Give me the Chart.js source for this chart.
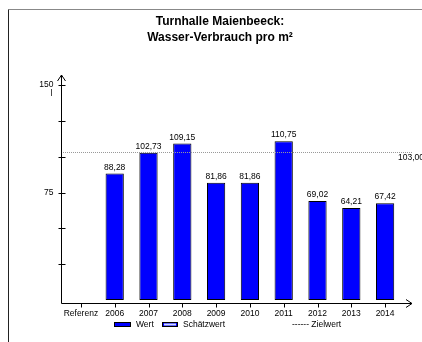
<!DOCTYPE html>
<html>
<head>
<meta charset="utf-8">
<script src="https://cdn.jsdelivr.net/npm/chart.js@4.4.0/dist/chart.umd.min.js"></script>
<style>
  body { margin: 0; background: #fff; }
  canvas { display: block; }
</style>
</head>
<body>
<canvas id="wasserChart" width="422" height="342"></canvas>
<script>
'use strict';
//** Data */

let categories = ['Referenz', '2006', '2007', '2008', '2009', '2010', '2011', '2012', '2013', '2014'];
let wertValues = [null, 88.28, 102.73, 109.15, 81.86, 81.86, 110.75, 69.02, 64.21, 67.42];
let zielwert = 103;
let yTicks = [25, 50, 75, 100, 125, 150];
let yTickLabels = [75, 150];
let titleLines = ['Turnhalle Maienbeeck:', 'Wasser-Verbrauch pro m²'];
let unitLabel = 'l';
let legendNames = ['Wert', 'Schätzwert', 'Zielwert'];

let fontFamily = '"Liberation Sans", Arial, sans-serif';
let smallFont = '8.5px ' + fontFamily;

function formatNumber(v){
  return v.toFixed(2).replace('.', ',');
}

//** Plugin for axes, labels, title and legend */

const decorPlugin = {
  id: 'decorPlugin',
  beforeDraw(chart){
    let c = chart.ctx;
    c.save();
    c.fillStyle = '#fff';
    c.fillRect(0, 0, chart.width, chart.height);
    c.restore();
  },
  afterDatasetsDraw(chart){
    let c = chart.ctx;
    let xs = chart.scales.x;
    let ys = chart.scales.y;
    let axisX = chart.chartArea.left - 3;
    let axisY = ys.getPixelForValue(0) + 3;
    let rightEnd = 412;
    let topEnd = ys.getPixelForValue(150) - 10;

    c.save();

    // frame
    c.lineWidth = 1;
    c.strokeStyle = '#888';
    c.beginPath();
    c.moveTo(8.5, 9.5);
    c.lineTo(422, 9.5);
    c.stroke();
    c.strokeStyle = '#222';
    c.beginPath();
    c.moveTo(8.5, 342);
    c.lineTo(8.5, 9.5);
    c.stroke();

    // title
    c.fillStyle = '#000';
    c.font = 'bold 12px ' + fontFamily;
    c.textAlign = 'center';
    c.textBaseline = 'middle';
    c.fillText(titleLines[0], 220, 22);
    c.fillText(titleLines[1], 220, 38);

    // zielwert line
    let zy = Math.round(ys.getPixelForValue(zielwert)) + 0.5;
    c.strokeStyle = '#999';
    c.setLineDash([1, 1]);
    c.beginPath();
    c.moveTo(axisX, zy);
    c.lineTo(rightEnd, zy);
    c.stroke();
    c.setLineDash([]);
    c.font = smallFont;
    c.textAlign = 'left';
    c.textBaseline = 'top';
    c.fillStyle = '#000';
    c.fillText(formatNumber(zielwert), 398, zy + 1);

    // axes
    c.strokeStyle = '#000';
    c.lineWidth = 1;
    let ax = Math.round(axisX) + 0.5;
    let ay = Math.round(axisY) + 0.5;
    c.beginPath();
    c.moveTo(ax, ay);
    c.lineTo(ax, topEnd);
    c.moveTo(ax - 4, topEnd + 6);
    c.lineTo(ax, topEnd);
    c.lineTo(ax + 4, topEnd + 6);
    c.moveTo(ax, ay);
    c.lineTo(rightEnd, ay);
    c.moveTo(rightEnd - 6, ay - 4);
    c.lineTo(rightEnd, ay);
    c.lineTo(rightEnd - 6, ay + 4);
    c.stroke();

    // y ticks
    c.beginPath();
    for (let i = 0; i < yTicks.length; i++){
      let py = Math.round(ys.getPixelForValue(yTicks[i])) + 0.5;
      c.moveTo(ax - 3, py);
      c.lineTo(ax + 4, py);
    }
    // x ticks
    for (let i = 0; i < categories.length; i++){
      let px = Math.round(xs.getPixelForValue(i)) + 0.5;
      c.moveTo(px, ay);
      c.lineTo(px, ay + 4);
    }
    c.stroke();

    // y labels
    c.font = smallFont;
    c.fillStyle = '#000';
    c.textAlign = 'right';
    c.textBaseline = 'middle';
    for (let i = 0; i < yTickLabels.length; i++){
      c.fillText(String(yTickLabels[i]), ax - 8, ys.getPixelForValue(yTickLabels[i]));
    }
    c.fillText(unitLabel, ax - 9, ys.getPixelForValue(150) + 9);

    // x labels
    c.textAlign = 'center';
    c.textBaseline = 'middle';
    for (let i = 0; i < categories.length; i++){
      c.fillText(categories[i], xs.getPixelForValue(i), ay + 10);
    }

    // value labels
    let meta = chart.getDatasetMeta(0);
    c.textBaseline = 'bottom';
    for (let i = 0; i < meta.data.length; i++){
      if (wertValues[i] === null){
        continue;
      }
      let bar = meta.data[i];
      c.fillText(formatNumber(wertValues[i]), bar.x, bar.y - 2);
    }

    // legend
    let ly = 322;
    c.fillStyle = '#0000ff';
    c.fillRect(114, ly, 17, 5);
    c.strokeStyle = '#000';
    c.strokeRect(114.5, ly + 0.5, 16, 4);
    c.fillStyle = '#0000ff';
    c.fillRect(162, ly, 16, 5);
    c.fillStyle = '#cfd8ff';
    c.fillRect(164, ly + 1.5, 12, 2);
    c.strokeStyle = '#000';
    c.strokeRect(162.5, ly + 0.5, 15, 4);
    c.fillStyle = '#000';
    c.font = smallFont;
    c.textAlign = 'left';
    c.textBaseline = 'middle';
    c.fillText(legendNames[0], 136, ly + 3);
    c.fillText(legendNames[1], 183, ly + 3);
    c.fillText('------ ' + legendNames[2], 292, ly + 3);

    c.restore();
  }
};

//** Chart */

let ctx = document.getElementById('wasserChart');

let chartObj = {
  type: 'bar',
  data: {
    labels: categories,
    datasets: [{
      label: legendNames[0],
      data: wertValues,
      backgroundColor: '#0000ff',
      borderColor: '#000',
      borderWidth: 1,
      borderSkipped: false,
      categoryPercentage: 1,
      barPercentage: 0.54
    }]
  },
  options: {
    responsive: false,
    animation: false,
    layout: {
      padding: { left: 64, right: 20, top: 85, bottom: 42 }
    },
    plugins: {
      legend: { display: false },
      title: { display: false },
      tooltip: { enabled: false }
    },
    scales: {
      x: {
        display: false,
        offset: true
      },
      y: {
        display: false,
        min: 0,
        max: 150
      }
    }
  },
  plugins: [decorPlugin]
};

let wasserChart = new Chart(ctx, chartObj);
</script>
</body>
</html>
